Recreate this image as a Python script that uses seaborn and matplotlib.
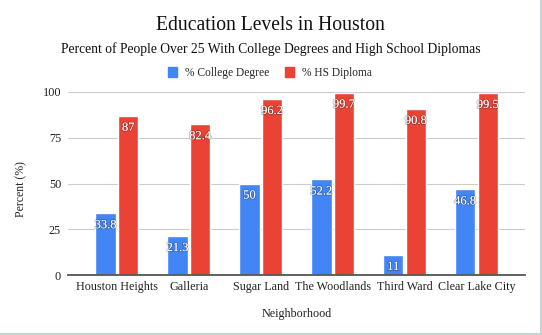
import matplotlib
matplotlib.use("Agg")
import matplotlib.pyplot as plt
import matplotlib.patheffects as pe
from matplotlib.patches import Patch
from matplotlib.lines import Line2D
import seaborn as sns
import pandas as pd

neighborhoods = ["Houston Heights", "Galleria", "Sugar Land", "The Woodlands", "Third Ward", "Clear Lake City"]
college_degree = [33.8, 21.3, 50, 52.2, 11, 46.8]
hs_diploma = [87, 82.4, 96.2, 99.7, 90.8, 99.5]
series_names = ["% College Degree", "% HS Diploma"]
colors = ["#4285F4", "#EA4335"]
yticks = [0, 25, 50, 75, 100]

df = pd.DataFrame({
    "Neighborhood": neighborhoods * 2,
    "Value": college_degree + hs_diploma,
    "Series": [series_names[0]] * len(neighborhoods) + [series_names[1]] * len(neighborhoods),
})

sns.set_style("white")
plt.rcParams["font.family"] = ["Liberation Serif", "DejaVu Serif"]

W, H = 542, 335
fig = plt.figure(figsize=(W / 100, H / 100), dpi=100)
ax = fig.add_axes([68 / W, 1 - 275 / H, (525 - 68) / W, (275 - 92) / H])

sns.barplot(data=df, x="Neighborhood", y="Value", hue="Series", order=neighborhoods,
            hue_order=series_names, palette=colors, width=0.63, gap=0.1,
            saturation=1, ax=ax, legend=False)

for cont in ax.containers:
    labels = ["%g" % v for v in cont.datavalues]
    ax.bar_label(cont, labels=labels, padding=-13, color="white", fontsize=9,
                 path_effects=[pe.withStroke(linewidth=1.2, foreground=(0, 0, 0, 0.25))])

ax.set_ylim(0, 100)
ax.set_xlim(-0.681, 5.675)
ax.set_yticks(yticks)
ax.set_yticklabels([str(t) for t in yticks], fontsize=8.8, color="#222222")
ax.tick_params(axis="x", labelsize=8.7, colors="#222222", length=0, pad=4)
ax.tick_params(axis="y", length=0, pad=5)
ax.yaxis.grid(True, color="#cccccc", linewidth=0.8)
ax.set_axisbelow(True)
for s in ["top", "right", "left"]:
    ax.spines[s].set_visible(False)
ax.spines["bottom"].set_color("#555555")
ax.spines["bottom"].set_linewidth(1.3)

ax.set_xlabel("Neighborhood", fontsize=8.7, color="#222222")
ax.xaxis.set_label_coords(0.5, -(314 - 275) / (275 - 92))
ax.set_ylabel("Percent (%)", fontsize=8.5, color="#222222")
ax.yaxis.set_label_coords(-(68 - 21) / (525 - 68), (275 - 189) / (275 - 92))
ax.yaxis.label.set_va("center")
ax.xaxis.label.set_va("center")

fig.text(270.5 / W, 1 - 26 / H, "Education Levels in Houston", ha="center", va="center",
         fontsize=14.1, color="#111111")
fig.text(271 / W, 1 - 49 / H, "Percent of People Over 25 With College Degrees and High School Diplomas",
         ha="center", va="center", fontsize=9.8, color="#111111")

handles = [Patch(facecolor=c, edgecolor=c) for c in colors]
fig.legend(handles, series_names, loc="center", bbox_to_anchor=(270 / W, 1 - 73 / H), ncol=2,
           frameon=False, fontsize=8.3, handlelength=0.85, handleheight=0.85,
           handletextpad=0.7, columnspacing=1.3)

# thin border on right and bottom of the image
fig.add_artist(Line2D([1 - 1.5 / W, 1 - 1.5 / W], [0, 1], color="#c5d5d3", linewidth=1.5, transform=fig.transFigure))
fig.add_artist(Line2D([0, 1], [1.5 / H, 1.5 / H], color="#c5d5d3", linewidth=1.5, transform=fig.transFigure))

fig.savefig("out.png", dpi=100, facecolor="white")
